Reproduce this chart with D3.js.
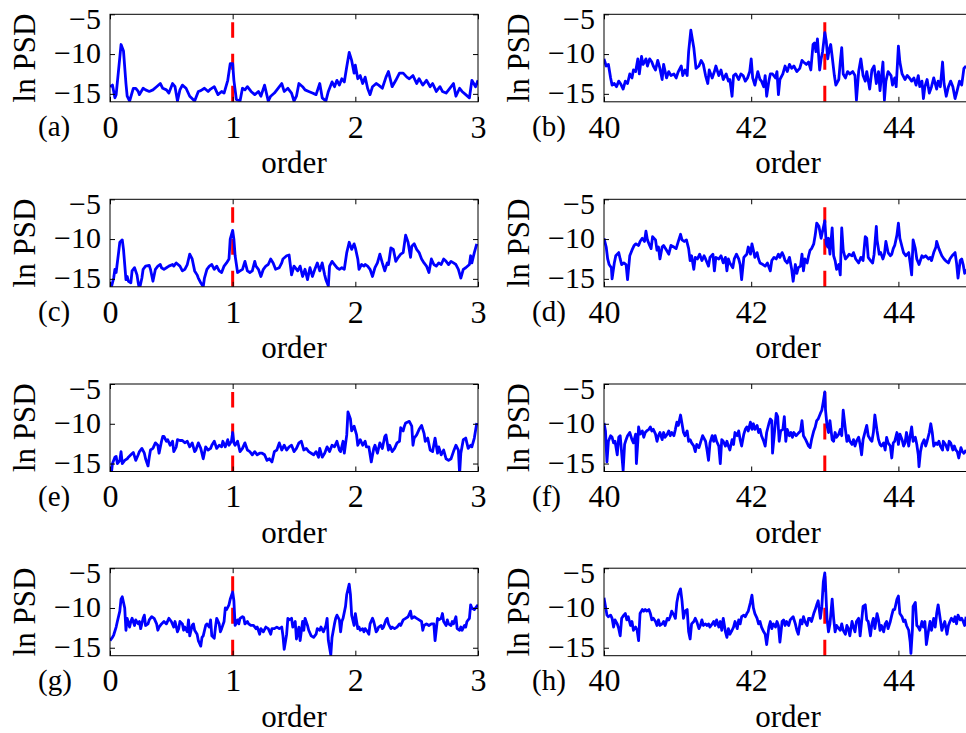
<!DOCTYPE html>
<html>
<head>
<meta charset="utf-8">
<script src="https://cdn.jsdelivr.net/npm/d3@7"></script>
<style>
body { margin: 0; background: #fff; }
svg { display: block; font-family: "Liberation Serif", "Times New Roman", serif; }
</style>
</head>
<body>
<svg id="chart" width="966" height="733"></svg>
<script>
// ln PSD against order: [order, ln PSD]
var psdA = [[0.00,-14.1],[0.02,-13.9],[0.04,-15.5],[0.05,-15.1],[0.07,-12.0],[0.09,-8.8],[0.11,-9.6],[0.13,-13.7],[0.14,-15.3],[0.16,-15.9],[0.19,-14.3],[0.21,-14.3],[0.23,-14.7],[0.24,-15.1],[0.27,-14.3],[0.29,-14.5],[0.32,-14.7],[0.35,-14.5],[0.38,-14.1],[0.41,-13.7],[0.43,-14.3],[0.46,-14.5],[0.48,-14.9],[0.51,-13.7],[0.53,-14.1],[0.55,-15.9],[0.57,-14.5],[0.59,-13.9],[0.62,-14.3],[0.65,-15.3],[0.69,-15.9],[0.72,-14.7],[0.74,-14.6],[0.77,-14.3],[0.80,-14.7],[0.82,-14.4],[0.85,-14.1],[0.88,-15.1],[0.91,-14.7],[0.93,-14.9],[0.96,-13.3],[0.98,-11.2],[1.00,-11.2],[1.01,-13.3],[1.03,-15.7],[1.06,-15.9],[1.08,-14.3],[1.10,-14.5],[1.12,-14.1],[1.15,-14.7],[1.18,-15.1],[1.21,-14.7],[1.23,-15.3],[1.26,-13.9],[1.29,-15.9],[1.31,-15.3],[1.34,-14.9],[1.37,-14.3],[1.40,-13.7],[1.42,-14.7],[1.45,-14.3],[1.48,-14.9],[1.50,-15.9],[1.52,-15.3],[1.54,-13.7],[1.57,-14.1],[1.59,-14.5],[1.62,-14.7],[1.65,-14.9],[1.68,-15.1],[1.71,-13.7],[1.73,-15.5],[1.76,-15.9],[1.78,-14.7],[1.81,-13.5],[1.83,-14.1],[1.85,-13.3],[1.87,-13.9],[1.89,-13.1],[1.91,-13.5],[1.93,-11.6],[1.95,-9.8],[1.97,-10.8],[1.99,-12.4],[2.00,-11.4],[2.02,-13.1],[2.04,-12.7],[2.06,-13.7],[2.08,-12.9],[2.10,-14.3],[2.12,-15.1],[2.14,-14.1],[2.17,-13.7],[2.19,-13.9],[2.22,-14.3],[2.25,-12.9],[2.27,-12.2],[2.30,-14.1],[2.33,-13.3],[2.36,-12.4],[2.39,-12.4],[2.42,-12.9],[2.44,-13.1],[2.47,-12.7],[2.50,-13.7],[2.52,-13.1],[2.55,-13.9],[2.58,-13.3],[2.61,-14.1],[2.63,-13.7],[2.66,-14.7],[2.69,-14.1],[2.71,-14.7],[2.74,-14.9],[2.77,-14.3],[2.80,-13.7],[2.82,-15.3],[2.85,-14.3],[2.87,-14.7],[2.90,-15.1],[2.93,-15.5],[2.95,-13.3],[2.98,-14.1],[3.00,-13.3]];

var psdB = [[40.00,-10.6],[40.03,-11.5],[40.06,-11.3],[40.09,-13.0],[40.11,-13.9],[40.14,-13.7],[40.17,-14.1],[40.20,-13.4],[40.23,-13.8],[40.26,-14.4],[40.29,-13.4],[40.32,-13.7],[40.35,-12.5],[40.38,-13.0],[40.40,-12.0],[40.43,-12.2],[40.46,-10.6],[40.48,-12.5],[40.51,-10.3],[40.53,-11.3],[40.55,-11.0],[40.57,-10.6],[40.59,-11.5],[40.62,-10.6],[40.65,-11.0],[40.67,-11.5],[40.70,-12.0],[40.73,-10.8],[40.76,-11.8],[40.79,-13.2],[40.81,-11.3],[40.85,-13.0],[40.88,-12.2],[40.91,-12.7],[40.95,-12.5],[40.98,-13.0],[41.01,-12.2],[41.05,-11.5],[41.07,-12.7],[41.10,-12.0],[41.13,-12.7],[41.15,-9.7],[41.18,-7.0],[41.22,-9.2],[41.25,-11.8],[41.29,-11.5],[41.32,-10.8],[41.35,-11.3],[41.38,-12.7],[41.41,-13.7],[41.43,-12.0],[41.47,-13.0],[41.50,-12.2],[41.52,-11.5],[41.56,-12.7],[41.59,-12.0],[41.62,-13.2],[41.66,-12.5],[41.69,-13.4],[41.71,-13.2],[41.74,-15.3],[41.76,-12.7],[41.79,-12.5],[41.83,-13.2],[41.86,-12.5],[41.89,-12.7],[41.92,-13.4],[41.95,-13.0],[41.98,-12.2],[42.00,-10.6],[42.02,-13.0],[42.05,-13.9],[42.09,-12.2],[42.12,-13.2],[42.14,-13.4],[42.17,-14.1],[42.19,-12.7],[42.21,-15.3],[42.24,-13.4],[42.26,-12.5],[42.29,-12.5],[42.33,-13.0],[42.35,-12.2],[42.37,-15.1],[42.39,-13.2],[42.43,-12.5],[42.46,-11.5],[42.49,-12.2],[42.52,-11.3],[42.55,-11.8],[42.58,-11.5],[42.62,-12.2],[42.66,-11.8],[42.69,-10.8],[42.71,-11.0],[42.75,-11.3],[42.78,-11.0],[42.81,-12.0],[42.84,-8.8],[42.86,-8.6],[42.88,-9.7],[42.90,-8.1],[42.93,-12.0],[42.95,-10.6],[42.97,-9.7],[43.00,-7.3],[43.02,-8.4],[43.04,-10.6],[43.06,-9.4],[43.08,-8.8],[43.10,-10.3],[43.13,-12.7],[43.15,-13.9],[43.19,-13.2],[43.21,-11.0],[43.23,-9.2],[43.25,-12.5],[43.28,-13.0],[43.31,-12.2],[43.34,-12.5],[43.38,-12.2],[43.41,-12.7],[43.43,-15.8],[43.46,-12.2],[43.49,-10.6],[43.52,-12.7],[43.55,-13.4],[43.57,-12.2],[43.61,-14.4],[43.64,-12.0],[43.67,-11.5],[43.70,-13.7],[43.73,-12.2],[43.75,-14.6],[43.79,-11.0],[43.81,-15.8],[43.83,-13.4],[43.86,-12.2],[43.90,-12.7],[43.92,-13.9],[43.95,-13.0],[43.97,-14.1],[44.00,-9.0],[44.02,-11.0],[44.05,-12.5],[44.09,-13.2],[44.12,-12.7],[44.15,-13.0],[44.18,-13.4],[44.21,-13.0],[44.24,-13.9],[44.27,-12.7],[44.29,-14.1],[44.32,-13.4],[44.34,-15.6],[44.36,-14.1],[44.39,-13.2],[44.42,-14.9],[44.45,-14.1],[44.48,-13.0],[44.52,-14.4],[44.54,-13.4],[44.57,-14.1],[44.60,-11.0],[44.62,-13.7],[44.65,-15.3],[44.68,-14.1],[44.71,-13.4],[44.74,-14.1],[44.77,-15.6],[44.79,-14.9],[44.83,-13.4],[44.86,-13.9],[44.89,-11.8],[44.92,-11.5]];

var psdC = [[0.01,-16.1],[0.03,-14.9],[0.04,-13.8],[0.05,-14.2],[0.07,-11.7],[0.08,-10.4],[0.10,-10.1],[0.11,-11.3],[0.13,-15.1],[0.14,-14.7],[0.15,-15.3],[0.17,-15.5],[0.18,-14.0],[0.20,-13.6],[0.22,-14.5],[0.23,-15.5],[0.24,-16.3],[0.26,-14.9],[0.27,-13.8],[0.29,-13.4],[0.32,-13.3],[0.33,-13.8],[0.35,-15.3],[0.37,-13.8],[0.39,-13.4],[0.41,-13.2],[0.42,-13.6],[0.44,-13.8],[0.46,-13.6],[0.48,-13.4],[0.51,-13.2],[0.52,-13.4],[0.54,-13.0],[0.57,-13.4],[0.59,-14.0],[0.61,-13.8],[0.63,-13.2],[0.65,-11.9],[0.67,-12.5],[0.69,-14.0],[0.71,-14.5],[0.72,-14.9],[0.74,-15.5],[0.76,-16.0],[0.77,-14.9],[0.79,-13.8],[0.81,-13.4],[0.83,-13.2],[0.85,-13.8],[0.87,-13.4],[0.89,-14.0],[0.91,-14.2],[0.93,-13.4],[0.95,-13.0],[0.97,-12.5],[0.98,-10.0],[1.00,-8.9],[1.01,-10.0],[1.02,-12.1],[1.04,-14.2],[1.06,-14.0],[1.08,-13.8],[1.10,-12.8],[1.12,-14.0],[1.14,-14.2],[1.16,-14.0],[1.18,-12.8],[1.19,-13.4],[1.21,-13.8],[1.23,-14.7],[1.25,-13.8],[1.27,-13.4],[1.29,-13.2],[1.31,-12.5],[1.33,-13.0],[1.35,-13.8],[1.38,-13.6],[1.40,-13.0],[1.41,-12.5],[1.44,-12.1],[1.46,-12.0],[1.48,-14.5],[1.50,-13.4],[1.51,-13.6],[1.53,-14.0],[1.55,-13.4],[1.57,-14.7],[1.59,-13.8],[1.61,-15.1],[1.63,-13.6],[1.65,-14.7],[1.67,-13.8],[1.69,-13.0],[1.71,-14.0],[1.73,-13.0],[1.75,-14.5],[1.76,-15.1],[1.78,-15.9],[1.79,-13.4],[1.81,-12.8],[1.83,-13.2],[1.85,-13.6],[1.87,-13.8],[1.89,-13.6],[1.91,-13.8],[1.93,-11.7],[1.95,-10.4],[1.97,-11.3],[1.99,-10.6],[2.00,-11.1],[2.02,-12.5],[2.03,-13.8],[2.05,-13.2],[2.07,-13.4],[2.08,-13.2],[2.10,-13.4],[2.12,-13.8],[2.14,-14.7],[2.16,-13.6],[2.18,-13.0],[2.20,-11.9],[2.22,-13.0],[2.24,-14.0],[2.26,-13.0],[2.27,-13.2],[2.29,-11.1],[2.31,-11.3],[2.33,-12.8],[2.35,-12.3],[2.37,-11.9],[2.39,-11.7],[2.41,-9.5],[2.43,-10.4],[2.45,-12.3],[2.46,-10.9],[2.48,-10.6],[2.50,-11.3],[2.52,-11.7],[2.54,-12.5],[2.56,-13.0],[2.58,-13.4],[2.60,-14.2],[2.62,-12.5],[2.64,-13.2],[2.66,-13.4],[2.68,-13.0],[2.70,-13.2],[2.72,-12.5],[2.74,-12.8],[2.76,-13.2],[2.78,-12.8],[2.80,-13.0],[2.82,-13.2],[2.84,-13.8],[2.86,-14.9],[2.88,-13.8],[2.90,-13.6],[2.93,-13.2],[2.94,-12.1],[2.95,-13.0],[2.97,-11.7],[2.99,-10.6]];

var psdD = [[40.00,-9.9],[40.03,-11.0],[40.05,-12.5],[40.07,-13.2],[40.10,-13.6],[40.11,-15.0],[40.14,-13.0],[40.16,-12.1],[40.20,-11.7],[40.22,-12.5],[40.24,-13.2],[40.27,-13.0],[40.30,-13.2],[40.32,-15.1],[40.35,-12.1],[40.38,-11.4],[40.41,-10.8],[40.43,-10.6],[40.47,-10.8],[40.49,-10.3],[40.52,-9.9],[40.55,-10.3],[40.57,-9.0],[40.59,-10.1],[40.62,-10.8],[40.64,-11.2],[40.66,-9.7],[40.70,-10.1],[40.72,-11.4],[40.74,-11.0],[40.76,-12.5],[40.79,-11.0],[40.81,-10.8],[40.85,-11.4],[40.88,-11.9],[40.91,-10.8],[40.95,-11.0],[40.98,-11.2],[41.01,-10.3],[41.04,-9.4],[41.06,-10.1],[41.09,-10.3],[41.12,-10.1],[41.15,-11.2],[41.17,-12.7],[41.19,-12.1],[41.22,-13.8],[41.24,-12.3],[41.27,-12.5],[41.30,-11.9],[41.33,-12.7],[41.36,-12.1],[41.38,-12.5],[41.42,-13.4],[41.44,-12.3],[41.48,-11.9],[41.50,-14.0],[41.52,-12.3],[41.56,-12.5],[41.59,-12.1],[41.62,-13.0],[41.65,-12.3],[41.67,-14.0],[41.69,-12.5],[41.71,-13.0],[41.75,-13.6],[41.77,-12.5],[41.80,-11.9],[41.83,-12.5],[41.85,-13.2],[41.87,-15.1],[41.90,-12.3],[41.92,-12.1],[41.94,-11.9],[41.96,-11.0],[41.99,-11.9],[42.01,-10.6],[42.03,-11.4],[42.05,-12.3],[42.08,-11.7],[42.10,-12.5],[42.12,-13.0],[42.16,-13.2],[42.19,-13.4],[42.22,-13.0],[42.26,-14.0],[42.28,-12.7],[42.31,-12.3],[42.34,-12.5],[42.37,-11.9],[42.39,-12.3],[42.42,-11.7],[42.44,-12.1],[42.46,-12.7],[42.49,-13.0],[42.52,-12.3],[42.55,-13.8],[42.57,-15.3],[42.60,-13.2],[42.62,-14.3],[42.64,-13.6],[42.67,-13.4],[42.69,-11.9],[42.71,-14.0],[42.73,-12.5],[42.76,-13.0],[42.78,-12.1],[42.80,-11.4],[42.82,-11.2],[42.85,-10.6],[42.87,-9.5],[42.89,-8.0],[42.92,-8.4],[42.95,-9.9],[42.97,-9.0],[43.00,-7.7],[43.02,-10.6],[43.04,-11.0],[43.05,-9.9],[43.07,-11.9],[43.10,-8.6],[43.12,-12.1],[43.14,-12.7],[43.16,-13.8],[43.19,-13.2],[43.21,-14.5],[43.23,-8.6],[43.25,-11.4],[43.28,-12.5],[43.30,-12.3],[43.33,-11.9],[43.37,-12.1],[43.39,-11.7],[43.42,-12.5],[43.46,-13.0],[43.49,-12.3],[43.52,-12.7],[43.55,-9.7],[43.57,-9.9],[43.59,-12.3],[43.62,-12.7],[43.65,-13.0],[43.67,-11.9],[43.70,-8.4],[43.71,-10.1],[43.74,-11.9],[43.76,-11.7],[43.79,-12.5],[43.81,-11.9],[43.83,-10.3],[43.86,-11.7],[43.89,-12.1],[43.91,-11.9],[43.93,-11.2],[43.95,-10.8],[43.98,-9.5],[44.00,-8.0],[44.02,-9.9],[44.05,-11.0],[44.07,-11.7],[44.10,-12.1],[44.14,-11.7],[44.16,-13.0],[44.18,-14.5],[44.20,-10.1],[44.23,-11.2],[44.25,-12.5],[44.28,-13.2],[44.32,-12.1],[44.34,-12.3],[44.37,-12.1],[44.41,-12.5],[44.43,-12.3],[44.45,-12.7],[44.48,-11.7],[44.51,-11.0],[44.52,-10.3],[44.55,-11.2],[44.59,-12.1],[44.62,-12.5],[44.64,-12.7],[44.68,-13.0],[44.70,-12.5],[44.73,-12.1],[44.77,-11.7],[44.79,-13.0],[44.81,-14.9],[44.84,-12.7],[44.86,-12.5],[44.88,-13.2],[44.90,-14.3],[44.92,-13.8]];

var psdE = [[0.01,-16.4],[0.02,-15.0],[0.04,-14.2],[0.05,-14.1],[0.06,-15.0],[0.08,-14.6],[0.09,-13.5],[0.10,-15.0],[0.12,-14.6],[0.14,-14.4],[0.15,-14.2],[0.17,-13.9],[0.19,-13.6],[0.21,-14.6],[0.23,-13.9],[0.24,-13.5],[0.26,-13.1],[0.28,-13.7],[0.29,-14.4],[0.31,-15.3],[0.32,-14.2],[0.33,-13.3],[0.35,-13.1],[0.37,-12.4],[0.39,-12.7],[0.40,-13.7],[0.42,-12.2],[0.43,-11.6],[0.44,-11.6],[0.46,-12.2],[0.47,-12.0],[0.49,-12.7],[0.51,-12.2],[0.52,-13.5],[0.54,-12.9],[0.55,-12.0],[0.57,-12.1],[0.59,-12.1],[0.61,-12.4],[0.63,-12.2],[0.65,-12.9],[0.67,-12.4],[0.69,-13.5],[0.70,-13.3],[0.72,-12.4],[0.74,-13.1],[0.76,-14.4],[0.78,-12.9],[0.80,-13.3],[0.82,-13.1],[0.83,-12.7],[0.85,-12.2],[0.87,-13.1],[0.89,-12.7],[0.91,-12.9],[0.92,-12.2],[0.94,-12.9],[0.96,-12.0],[0.97,-12.7],[0.99,-12.2],[1.00,-11.1],[1.01,-12.4],[1.02,-12.7],[1.04,-12.2],[1.06,-13.5],[1.08,-13.1],[1.10,-12.4],[1.12,-13.3],[1.14,-13.5],[1.16,-13.9],[1.18,-13.5],[1.20,-13.9],[1.22,-13.7],[1.24,-13.7],[1.26,-13.9],[1.28,-14.6],[1.30,-14.4],[1.32,-14.8],[1.34,-13.5],[1.36,-13.3],[1.38,-12.4],[1.40,-13.3],[1.42,-12.7],[1.44,-13.3],[1.46,-12.9],[1.48,-12.7],[1.50,-13.5],[1.52,-13.1],[1.54,-12.4],[1.56,-12.2],[1.58,-13.3],[1.60,-13.1],[1.62,-13.5],[1.64,-13.7],[1.66,-13.9],[1.68,-13.5],[1.70,-14.2],[1.71,-13.1],[1.73,-14.2],[1.75,-13.7],[1.77,-12.9],[1.79,-13.5],[1.81,-12.7],[1.83,-12.9],[1.85,-12.2],[1.87,-13.3],[1.88,-13.5],[1.90,-12.2],[1.91,-13.7],[1.93,-11.4],[1.94,-8.5],[1.96,-9.4],[1.97,-10.9],[1.99,-10.3],[2.01,-11.4],[2.02,-12.7],[2.04,-12.0],[2.06,-12.7],[2.08,-12.2],[2.09,-12.9],[2.11,-12.9],[2.13,-14.8],[2.15,-13.1],[2.16,-12.7],[2.18,-13.7],[2.20,-12.4],[2.22,-13.1],[2.24,-11.6],[2.25,-11.4],[2.27,-13.3],[2.28,-12.7],[2.30,-13.5],[2.32,-13.1],[2.34,-12.4],[2.36,-12.2],[2.37,-10.5],[2.39,-10.9],[2.40,-10.3],[2.41,-9.9],[2.44,-9.7],[2.46,-10.3],[2.47,-12.7],[2.48,-11.8],[2.50,-11.4],[2.52,-10.7],[2.54,-10.2],[2.56,-11.2],[2.57,-12.2],[2.59,-11.8],[2.61,-13.3],[2.63,-13.5],[2.65,-11.8],[2.67,-13.7],[2.68,-12.9],[2.70,-13.9],[2.72,-13.3],[2.74,-14.4],[2.76,-14.6],[2.78,-14.4],[2.80,-13.5],[2.82,-12.7],[2.84,-13.3],[2.85,-16.3],[2.86,-13.7],[2.88,-12.0],[2.90,-11.8],[2.92,-13.1],[2.94,-12.7],[2.95,-12.9],[2.97,-11.8],[2.99,-9.9]];

var psdF = [[40.00,-9.9],[40.02,-10.9],[40.04,-14.8],[40.06,-12.2],[40.09,-11.5],[40.11,-11.7],[40.13,-12.4],[40.15,-12.2],[40.18,-13.9],[40.20,-11.7],[40.22,-11.5],[40.26,-15.9],[40.28,-12.6],[40.30,-12.0],[40.32,-11.5],[40.35,-11.1],[40.38,-12.0],[40.40,-12.4],[40.43,-11.3],[40.44,-15.0],[40.46,-12.2],[40.47,-10.4],[40.49,-11.3],[40.52,-10.9],[40.54,-11.7],[40.56,-11.1],[40.58,-10.9],[40.61,-10.7],[40.63,-10.4],[40.65,-10.9],[40.67,-10.7],[40.70,-11.3],[40.72,-12.2],[40.74,-11.5],[40.76,-11.1],[40.79,-12.0],[40.81,-11.1],[40.83,-11.7],[40.86,-11.3],[40.88,-10.9],[40.90,-11.5],[40.92,-11.1],[40.95,-11.5],[40.97,-10.7],[40.99,-9.8],[41.01,-10.2],[41.04,-8.9],[41.06,-10.0],[41.08,-11.1],[41.10,-11.5],[41.13,-10.9],[41.15,-12.2],[41.17,-12.0],[41.19,-12.4],[41.22,-12.8],[41.24,-13.5],[41.26,-12.6],[41.29,-13.0],[41.31,-12.4],[41.34,-11.5],[41.38,-12.2],[41.40,-13.3],[41.42,-14.6],[41.44,-12.4],[41.47,-11.5],[41.49,-12.2],[41.51,-11.5],[41.53,-12.2],[41.56,-12.8],[41.58,-15.0],[41.60,-12.0],[41.62,-12.2],[41.65,-12.8],[41.67,-12.2],[41.69,-12.8],[41.71,-13.3],[41.74,-12.0],[41.76,-12.6],[41.78,-11.1],[41.81,-11.5],[41.83,-10.9],[41.85,-12.0],[41.87,-12.8],[41.90,-11.3],[41.92,-10.7],[41.94,-10.4],[41.96,-10.9],[41.99,-9.8],[42.01,-10.7],[42.03,-10.0],[42.05,-10.7],[42.08,-10.2],[42.10,-11.1],[42.12,-10.7],[42.14,-11.5],[42.17,-12.2],[42.19,-12.8],[42.21,-11.1],[42.24,-10.0],[42.26,-9.4],[42.28,-9.6],[42.29,-13.7],[42.32,-10.7],[42.34,-8.7],[42.36,-9.1],[42.38,-12.2],[42.40,-10.9],[42.43,-10.7],[42.45,-9.1],[42.47,-12.2],[42.49,-10.7],[42.52,-11.5],[42.54,-11.1],[42.56,-11.7],[42.58,-11.1],[42.61,-11.5],[42.63,-11.3],[42.65,-11.1],[42.67,-10.9],[42.69,-9.6],[42.71,-11.5],[42.74,-12.0],[42.78,-12.8],[42.80,-13.0],[42.82,-12.0],[42.85,-10.9],[42.87,-10.4],[42.89,-9.6],[42.91,-9.4],[42.94,-8.7],[42.96,-8.3],[42.98,-7.2],[43.00,-6.0],[43.01,-8.3],[43.03,-10.2],[43.05,-11.1],[43.07,-9.6],[43.10,-12.0],[43.12,-12.2],[43.14,-11.1],[43.16,-11.7],[43.19,-11.3],[43.21,-10.7],[43.23,-11.5],[43.25,-8.3],[43.28,-10.7],[43.30,-12.2],[43.32,-11.5],[43.34,-12.2],[43.37,-12.6],[43.39,-12.0],[43.41,-12.8],[43.43,-12.2],[43.46,-11.7],[43.48,-12.6],[43.50,-13.9],[43.52,-12.0],[43.55,-10.9],[43.57,-10.2],[43.59,-11.5],[43.62,-12.0],[43.64,-12.2],[43.66,-11.1],[43.68,-8.9],[43.71,-10.9],[43.73,-12.0],[43.75,-12.6],[43.77,-12.8],[43.80,-12.4],[43.82,-13.3],[43.84,-11.7],[43.86,-12.4],[43.89,-12.8],[43.91,-14.3],[43.93,-12.4],[43.95,-12.2],[43.98,-11.1],[44.00,-12.6],[44.02,-11.3],[44.05,-12.0],[44.07,-12.8],[44.09,-12.4],[44.11,-11.1],[44.14,-12.8],[44.16,-11.5],[44.18,-10.4],[44.20,-12.2],[44.23,-11.7],[44.25,-12.6],[44.27,-13.9],[44.28,-15.4],[44.30,-13.5],[44.32,-12.6],[44.35,-12.0],[44.37,-12.8],[44.39,-12.2],[44.42,-11.1],[44.44,-10.0],[44.46,-11.1],[44.48,-12.8],[44.51,-12.4],[44.53,-12.6],[44.55,-12.2],[44.57,-12.8],[44.60,-13.3],[44.61,-12.2],[44.64,-12.6],[44.67,-13.3],[44.69,-12.2],[44.71,-12.4],[44.74,-13.3],[44.76,-12.8],[44.78,-13.3],[44.80,-13.5],[44.82,-14.3],[44.85,-13.0],[44.87,-13.5],[44.89,-13.7],[44.92,-13.3]];

var psdG = [[0.00,-14.1],[0.02,-13.7],[0.03,-13.4],[0.05,-12.4],[0.06,-11.7],[0.08,-10.4],[0.09,-8.9],[0.10,-8.6],[0.12,-10.0],[0.13,-12.8],[0.14,-11.3],[0.16,-12.4],[0.17,-11.7],[0.18,-11.3],[0.20,-12.2],[0.21,-11.5],[0.23,-12.0],[0.24,-11.7],[0.25,-12.6],[0.27,-11.3],[0.28,-10.9],[0.29,-12.2],[0.31,-12.0],[0.32,-11.5],[0.34,-11.1],[0.36,-11.3],[0.38,-12.0],[0.39,-12.8],[0.40,-12.4],[0.42,-12.0],[0.44,-11.7],[0.46,-12.0],[0.48,-11.3],[0.50,-11.7],[0.52,-12.4],[0.53,-11.7],[0.55,-13.0],[0.56,-12.6],[0.57,-11.7],[0.59,-12.0],[0.60,-12.8],[0.61,-12.4],[0.63,-13.0],[0.64,-11.5],[0.65,-13.5],[0.67,-12.2],[0.68,-12.0],[0.69,-12.8],[0.71,-13.3],[0.72,-14.1],[0.74,-14.8],[0.75,-13.7],[0.76,-13.5],[0.78,-12.2],[0.79,-12.0],[0.81,-12.4],[0.82,-11.5],[0.83,-13.5],[0.85,-13.8],[0.86,-12.4],[0.87,-11.3],[0.89,-12.0],[0.90,-13.0],[0.91,-12.6],[0.93,-11.7],[0.94,-10.0],[0.95,-10.2],[0.97,-9.6],[0.98,-8.9],[1.00,-8.0],[1.01,-9.1],[1.02,-12.2],[1.04,-11.5],[1.05,-12.0],[1.06,-11.3],[1.08,-11.1],[1.09,-11.2],[1.10,-12.0],[1.12,-11.7],[1.13,-12.0],[1.15,-12.2],[1.17,-12.2],[1.19,-12.6],[1.20,-12.4],[1.22,-13.3],[1.23,-12.6],[1.25,-13.0],[1.27,-12.4],[1.29,-12.6],[1.31,-13.3],[1.32,-12.6],[1.34,-12.6],[1.36,-12.4],[1.38,-12.6],[1.40,-12.4],[1.41,-13.5],[1.42,-15.2],[1.44,-13.3],[1.45,-11.3],[1.46,-11.5],[1.48,-11.3],[1.49,-12.4],[1.51,-11.7],[1.52,-13.9],[1.54,-12.4],[1.55,-14.1],[1.57,-11.7],[1.58,-12.8],[1.59,-11.3],[1.61,-12.2],[1.62,-12.8],[1.64,-13.5],[1.66,-13.7],[1.68,-13.3],[1.69,-12.6],[1.71,-12.8],[1.72,-12.4],[1.74,-13.0],[1.76,-12.2],[1.77,-11.3],[1.78,-14.1],[1.80,-15.9],[1.81,-13.7],[1.83,-12.0],[1.84,-11.3],[1.85,-10.9],[1.87,-11.5],[1.88,-13.0],[1.89,-11.7],[1.90,-11.3],[1.92,-9.8],[1.93,-8.3],[1.95,-7.0],[1.96,-8.3],[1.97,-10.9],[1.99,-12.2],[2.00,-10.7],[2.02,-12.6],[2.03,-12.4],[2.04,-12.8],[2.06,-12.6],[2.07,-13.0],[2.08,-12.6],[2.10,-13.0],[2.11,-13.3],[2.12,-12.0],[2.14,-11.3],[2.15,-11.7],[2.17,-13.0],[2.18,-12.8],[2.19,-12.4],[2.21,-12.2],[2.22,-12.6],[2.23,-12.4],[2.25,-11.5],[2.26,-11.3],[2.27,-12.0],[2.29,-12.6],[2.30,-12.4],[2.32,-12.6],[2.34,-12.4],[2.36,-12.0],[2.37,-12.2],[2.39,-11.5],[2.41,-11.3],[2.43,-11.1],[2.45,-10.4],[2.46,-11.3],[2.48,-11.1],[2.50,-11.3],[2.52,-11.5],[2.54,-11.7],[2.55,-12.8],[2.56,-12.2],[2.58,-12.0],[2.60,-12.2],[2.62,-12.0],[2.64,-12.0],[2.65,-14.1],[2.67,-11.3],[2.68,-11.5],[2.70,-11.3],[2.71,-10.7],[2.72,-11.7],[2.74,-12.2],[2.75,-11.5],[2.76,-12.0],[2.78,-12.2],[2.79,-11.7],[2.80,-12.0],[2.82,-11.1],[2.83,-12.6],[2.85,-12.8],[2.86,-12.4],[2.87,-12.8],[2.89,-12.2],[2.90,-12.4],[2.91,-11.7],[2.93,-11.3],[2.94,-9.6],[2.95,-10.0],[2.97,-10.2],[2.99,-9.8],[3.00,-9.6]];

var psdH = [[40.00,-8.7],[40.02,-9.8],[40.04,-10.9],[40.06,-11.1],[40.09,-10.9],[40.11,-11.3],[40.13,-12.4],[40.15,-11.5],[40.18,-12.0],[40.20,-12.6],[40.22,-13.5],[40.24,-11.3],[40.27,-10.9],[40.29,-10.7],[40.31,-11.5],[40.33,-11.1],[40.36,-12.2],[40.38,-11.7],[40.40,-12.8],[40.43,-12.4],[40.45,-12.8],[40.47,-14.1],[40.49,-10.7],[40.52,-10.2],[40.54,-10.4],[40.56,-10.2],[40.58,-10.4],[40.61,-10.2],[40.63,-10.7],[40.65,-11.5],[40.67,-11.3],[40.70,-11.7],[40.72,-12.2],[40.74,-11.5],[40.76,-12.2],[40.79,-12.0],[40.81,-11.7],[40.83,-12.2],[40.86,-11.3],[40.88,-11.5],[40.90,-11.1],[40.92,-10.4],[40.95,-10.9],[40.97,-11.3],[40.99,-9.3],[41.01,-8.3],[41.04,-7.6],[41.06,-9.1],[41.08,-11.3],[41.10,-10.4],[41.13,-10.2],[41.15,-13.0],[41.17,-13.9],[41.19,-12.0],[41.22,-11.7],[41.24,-11.3],[41.26,-11.7],[41.29,-12.6],[41.31,-12.2],[41.33,-11.5],[41.35,-12.2],[41.38,-12.0],[41.40,-12.2],[41.42,-12.0],[41.44,-12.4],[41.47,-12.0],[41.49,-11.7],[41.51,-12.2],[41.53,-11.5],[41.56,-12.4],[41.58,-11.7],[41.60,-12.8],[41.62,-11.3],[41.65,-13.0],[41.67,-13.7],[41.69,-12.6],[41.71,-13.3],[41.74,-12.8],[41.76,-12.4],[41.78,-11.7],[41.81,-12.6],[41.83,-11.5],[41.85,-12.0],[41.87,-11.1],[41.90,-10.9],[41.92,-11.1],[41.94,-10.7],[41.96,-10.4],[41.99,-9.3],[42.01,-8.4],[42.03,-10.0],[42.05,-10.7],[42.08,-11.3],[42.10,-12.0],[42.12,-11.7],[42.14,-12.4],[42.17,-13.0],[42.19,-13.3],[42.21,-14.6],[42.24,-12.4],[42.26,-11.7],[42.28,-12.6],[42.30,-12.0],[42.33,-12.4],[42.35,-11.7],[42.37,-12.2],[42.39,-14.3],[42.42,-11.7],[42.44,-11.5],[42.46,-12.2],[42.48,-11.7],[42.51,-12.2],[42.53,-11.5],[42.55,-11.3],[42.57,-11.1],[42.60,-12.0],[42.62,-12.8],[42.64,-13.3],[42.67,-11.5],[42.69,-12.0],[42.71,-11.1],[42.73,-11.7],[42.76,-12.2],[42.78,-11.3],[42.80,-11.3],[42.82,-11.7],[42.85,-10.7],[42.87,-10.2],[42.89,-9.6],[42.91,-9.1],[42.94,-11.3],[42.96,-9.8],[42.98,-6.7],[43.00,-5.6],[43.01,-7.2],[43.03,-11.3],[43.05,-13.0],[43.07,-12.0],[43.10,-8.9],[43.12,-11.3],[43.14,-13.0],[43.16,-12.2],[43.19,-12.6],[43.21,-12.8],[43.23,-12.0],[43.25,-12.8],[43.28,-13.3],[43.30,-12.2],[43.32,-12.6],[43.34,-13.5],[43.37,-11.7],[43.39,-12.4],[43.41,-13.0],[43.43,-11.7],[43.46,-11.3],[43.48,-13.5],[43.50,-11.7],[43.52,-9.8],[43.55,-9.6],[43.57,-11.5],[43.59,-11.7],[43.62,-13.5],[43.64,-12.0],[43.66,-11.3],[43.68,-12.6],[43.71,-10.7],[43.73,-11.5],[43.75,-12.8],[43.77,-12.2],[43.80,-13.0],[43.82,-12.0],[43.84,-11.7],[43.86,-12.6],[43.89,-11.7],[43.91,-10.9],[43.93,-10.2],[43.95,-10.2],[43.98,-8.9],[44.00,-8.5],[44.02,-10.7],[44.05,-11.1],[44.07,-11.7],[44.09,-11.5],[44.11,-12.2],[44.14,-12.8],[44.16,-14.3],[44.17,-15.7],[44.19,-12.8],[44.20,-9.8],[44.23,-9.3],[44.25,-12.2],[44.27,-12.4],[44.29,-12.8],[44.32,-11.7],[44.34,-12.4],[44.36,-11.7],[44.38,-14.6],[44.41,-12.8],[44.43,-11.7],[44.45,-12.8],[44.48,-11.3],[44.50,-12.4],[44.52,-10.7],[44.54,-9.6],[44.57,-11.5],[44.59,-12.8],[44.61,-12.2],[44.63,-11.7],[44.66,-13.3],[44.68,-12.2],[44.70,-11.7],[44.72,-11.3],[44.75,-11.7],[44.77,-11.1],[44.79,-12.0],[44.81,-10.9],[44.84,-11.5],[44.86,-11.3],[44.88,-11.7],[44.90,-12.2],[44.92,-11.1]];

var leftTicks = [0, 1, 2, 3];
var rightTicks = [40, 42, 44];
var psdTicks = [-5, -10, -15];
var leftRange = [0, 3];
var rightRange = [40, 45];
var psdRange = [-16, -5];
var markers = [1, 43];          // order of the dashed red line, left / right column
var markerSpan = [-16, -6];
var letters = ["(a)", "(b)", "(c)", "(d)", "(e)", "(f)", "(g)", "(h)"];
var series = [psdA, psdB, psdC, psdD, psdE, psdF, psdG, psdH];

var colLeft = [110, 604];
var rowTop = [14.3, 199.3, 384, 568.2];
var w = 368, h = 87.5;

var svg = d3.select("#chart");

series.forEach(function (data, i)
{
    var col = i % 2, row = Math.floor(i / 2);
    var g = svg.append("g")
        .attr("transform", "translate(" + colLeft[col] + "," + rowTop[row] + ")");

    var x = d3.scaleLinear().domain(col === 0 ? leftRange : rightRange).range([0, w]);
    var y = d3.scaleLinear().domain(psdRange).range([h, 0]);
    var ticks = col === 0 ? leftTicks : rightTicks;

    g.append("clipPath").attr("id", "clip" + i)
        .append("rect").attr("width", w).attr("height", h);

    // dashed marker drawn first, the blue trace sits over it
    g.append("line")
        .attr("clip-path", "url(#clip" + i + ")")
        .attr("x1", x(markers[col])).attr("x2", x(markers[col]))
        .attr("y1", y(markerSpan[0])).attr("y2", y(markerSpan[1]))
        .attr("stroke", "#ff0000")
        .attr("stroke-width", 3)
        .attr("stroke-dasharray", "16,16");

    var line = d3.line()
        .x(function (d) { return x(d[0]); })
        .y(function (d) { return y(d[1]); });

    g.append("path")
        .datum(data)
        .attr("clip-path", "url(#clip" + i + ")")
        .attr("d", line)
        .attr("fill", "none")
        .attr("stroke", "#0000ff")
        .attr("stroke-width", 2.8)
        .attr("stroke-linejoin", "round");

    // axes, ticks pointing inward on all four sides
    var bottom = g.append("g").attr("transform", "translate(0," + h + ")")
        .call(d3.axisBottom(x).tickValues(ticks).tickFormat(d3.format("d"))
            .tickSizeInner(-5).tickSizeOuter(0).tickPadding(13));
    g.append("g")
        .call(d3.axisTop(x).tickValues(ticks).tickSizeInner(-5).tickSizeOuter(0).tickFormat(""));
    var left = g.append("g")
        .call(d3.axisLeft(y).tickValues(psdTicks).tickFormat(d3.format("d"))
            .tickSizeInner(-5).tickSizeOuter(0).tickPadding(9));
    g.append("g").attr("transform", "translate(" + w + ",0)")
        .call(d3.axisRight(y).tickValues(psdTicks).tickSizeInner(-5).tickSizeOuter(0).tickFormat(""));

    g.selectAll(".domain").remove();
    g.selectAll(".tick line").attr("stroke", "#000");
    g.selectAll("g").attr("font-family", null).attr("font-size", null);
    bottom.selectAll("text").attr("font-size", 32).attr("fill", "#000");
    left.selectAll("text").attr("font-size", 30).attr("fill", "#000")
        .attr("y", function (d) { return d === -5 ? 5 : -1; });

    g.append("rect")
        .attr("width", w).attr("height", h)
        .attr("fill", "none")
        .attr("stroke", "#000")
        .attr("stroke-width", 1);

    g.append("text")
        .attr("x", w / 2).attr("y", h + 71)
        .attr("text-anchor", "middle")
        .attr("font-size", 31)
        .text("order");

    g.append("text")
        .attr("transform", "translate(-75," + (h / 2) + ") rotate(-90)")
        .attr("text-anchor", "middle")
        .attr("font-size", 31)
        .text("ln PSD");

    g.append("text")
        .attr("x", -72).attr("y", h + 34)
        .attr("font-size", 29)
        .text(letters[i]);
});
</script>
</body>
</html>
